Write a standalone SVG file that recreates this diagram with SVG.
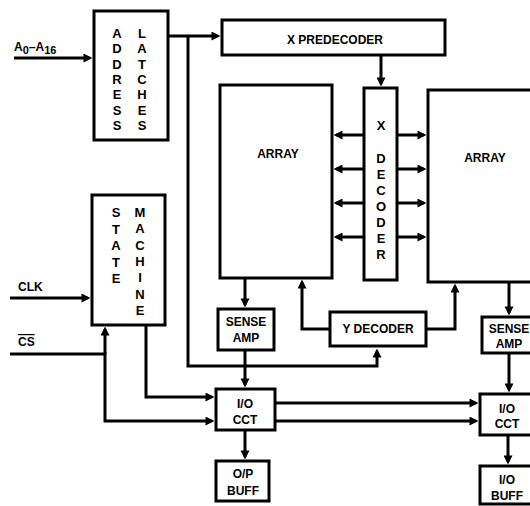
<svg xmlns="http://www.w3.org/2000/svg" width="530" height="506" viewBox="0 0 530 506">
<style>
.box{fill:#fff;stroke:#000;stroke-width:3}
.ln{fill:none;stroke:#000;stroke-width:3}
.arw{fill:none;stroke:#000;stroke-width:3;marker-end:url(#ah)}
text{font-family:"Liberation Sans",Arial,sans-serif;font-weight:bold;font-size:12px;fill:#000}
.v{font-size:13px;text-anchor:middle}
.c{text-anchor:middle}
</style>
<defs>
<marker id="ah" viewBox="0 0 10 10" refX="6.7" refY="5" markerWidth="9" markerHeight="9" markerUnits="userSpaceOnUse" orient="auto">
<path d="M0,0 L10,5 L0,10 z" fill="#000"/>
</marker>
</defs>
<g id="nodes">
<g id="latches"><rect class="box" x="94" y="11" width="74" height="129"/>
<text class="v" x="117" y="38"><tspan x="117">A</tspan><tspan x="117" dy="15.33">D</tspan><tspan x="117" dy="15.33">D</tspan><tspan x="117" dy="15.33">R</tspan><tspan x="117" dy="15.33">E</tspan><tspan x="117" dy="15.33">S</tspan><tspan x="117" dy="15.33">S</tspan></text>
<text class="v" x="142" y="38"><tspan x="142">L</tspan><tspan x="142" dy="15.33">A</tspan><tspan x="142" dy="15.33">T</tspan><tspan x="142" dy="15.33">C</tspan><tspan x="142" dy="15.33">H</tspan><tspan x="142" dy="15.33">E</tspan><tspan x="142" dy="15.33">S</tspan></text></g>
<g id="xpre"><rect class="box" x="222" y="20" width="223" height="35"/><text class="c" x="335" y="44">X PREDECODER</text></g>
<g id="arrayL"><rect class="box" x="220" y="85" width="112" height="193"/><text class="c" x="278" y="158">ARRAY</text></g>
<g id="xdec"><rect class="box" x="364" y="88" width="33" height="192"/>
<text class="v" x="381" y="130"><tspan x="381">X</tspan><tspan x="381" dy="33">D</tspan><tspan x="381" dy="16">E</tspan><tspan x="381" dy="16">C</tspan><tspan x="381" dy="16">O</tspan><tspan x="381" dy="16">D</tspan><tspan x="381" dy="16">E</tspan><tspan x="381" dy="16">R</tspan></text></g>
<g id="arrayR"><rect class="box" x="428" y="90" width="112" height="192"/><text class="c" x="485" y="162">ARRAY</text></g>
<g id="state"><rect class="box" x="92" y="195" width="73" height="130"/>
<text class="v" x="116" y="217"><tspan x="116">S</tspan><tspan x="116" dy="16.5">T</tspan><tspan x="116" dy="16.5">A</tspan><tspan x="116" dy="16.5">T</tspan><tspan x="116" dy="16.5">E</tspan></text>
<text class="v" x="140" y="217"><tspan x="140">M</tspan><tspan x="140" dy="16.3">A</tspan><tspan x="140" dy="16.3">C</tspan><tspan x="140" dy="16.3">H</tspan><tspan x="140" dy="16.3">I</tspan><tspan x="140" dy="16.3">N</tspan><tspan x="140" dy="16.3">E</tspan></text></g>
<g id="senseL"><rect class="box" x="218" y="309" width="56" height="41"/><text class="c" x="246" y="326">SENSE</text><text class="c" x="246" y="342">AMP</text></g>
<g id="ydec"><rect class="box" x="330" y="312" width="96" height="34"/><text class="c" x="378" y="333">Y DECODER</text></g>
<g id="senseR"><rect class="box" x="482" y="317" width="56" height="36"/><text class="c" x="509" y="333">SENSE</text><text class="c" x="509" y="348">AMP</text></g>
<g id="iocctL"><rect class="box" x="216" y="389" width="59" height="41"/><text class="c" x="245" y="408">I/O</text><text class="c" x="245" y="424">CCT</text></g>
<g id="iocctR"><rect class="box" x="480" y="394" width="58" height="41"/><text class="c" x="507" y="413">I/O</text><text class="c" x="507" y="428">CCT</text></g>
<g id="opbuff"><rect class="box" x="216" y="461" width="53" height="40"/><text class="c" x="243" y="478">O/P</text><text class="c" x="243" y="495">BUFF</text></g>
<g id="iobuff"><rect class="box" x="480" y="466" width="58" height="38"/><text class="c" x="507" y="484">I/O</text><text class="c" x="507" y="500">BUFF</text></g>
</g>
<g id="labels">
<text x="14" y="51" font-size="13">A<tspan font-size="11" dy="3">0</tspan><tspan dy="-3">–A</tspan><tspan font-size="11" dy="3">16</tspan></text>
<text x="18" y="291">CLK</text>
<text x="18" y="346" style="text-decoration:overline">CS</text>
</g>
<g id="connectors">
<path class="arw" d="M14,58 H89.5"/>
<path class="arw" d="M168,36 H217.5"/>
<path class="arw" d="M188,36 V366 H377 V351.5"/>
<path class="arw" d="M381,55 V83.5"/>
<path class="arw" d="M364,135 H336.5"/>
<path class="arw" d="M364,169 H336.5"/>
<path class="arw" d="M364,203 H336.5"/>
<path class="arw" d="M364,237 H336.5"/>
<path class="arw" d="M397,135 H423.5"/>
<path class="arw" d="M397,169 H423.5"/>
<path class="arw" d="M397,203 H423.5"/>
<path class="arw" d="M397,237 H423.5"/>
<path class="arw" d="M245,278 V304.5"/>
<path class="arw" d="M245,350 V384.5"/>
<path class="arw" d="M330,329 H302 V282.5"/>
<path class="arw" d="M426,329 H455 V286.5"/>
<path class="arw" d="M509,282 V312.5"/>
<path class="arw" d="M509,353 V389.5"/>
<path class="arw" d="M508,435 V461.5"/>
<path class="arw" d="M245,430 V456.5"/>
<path class="arw" d="M275,403 H475.5"/>
<path class="arw" d="M275,421 H475.5"/>
<path class="arw" d="M10,298 H87.5"/>
<path class="arw" d="M105,354 V329.5"/>
<path class="arw" d="M10,354 H105 V421 H211.5"/>
<path class="arw" d="M146,325 V397 H211.5"/>
</g>
</svg>
